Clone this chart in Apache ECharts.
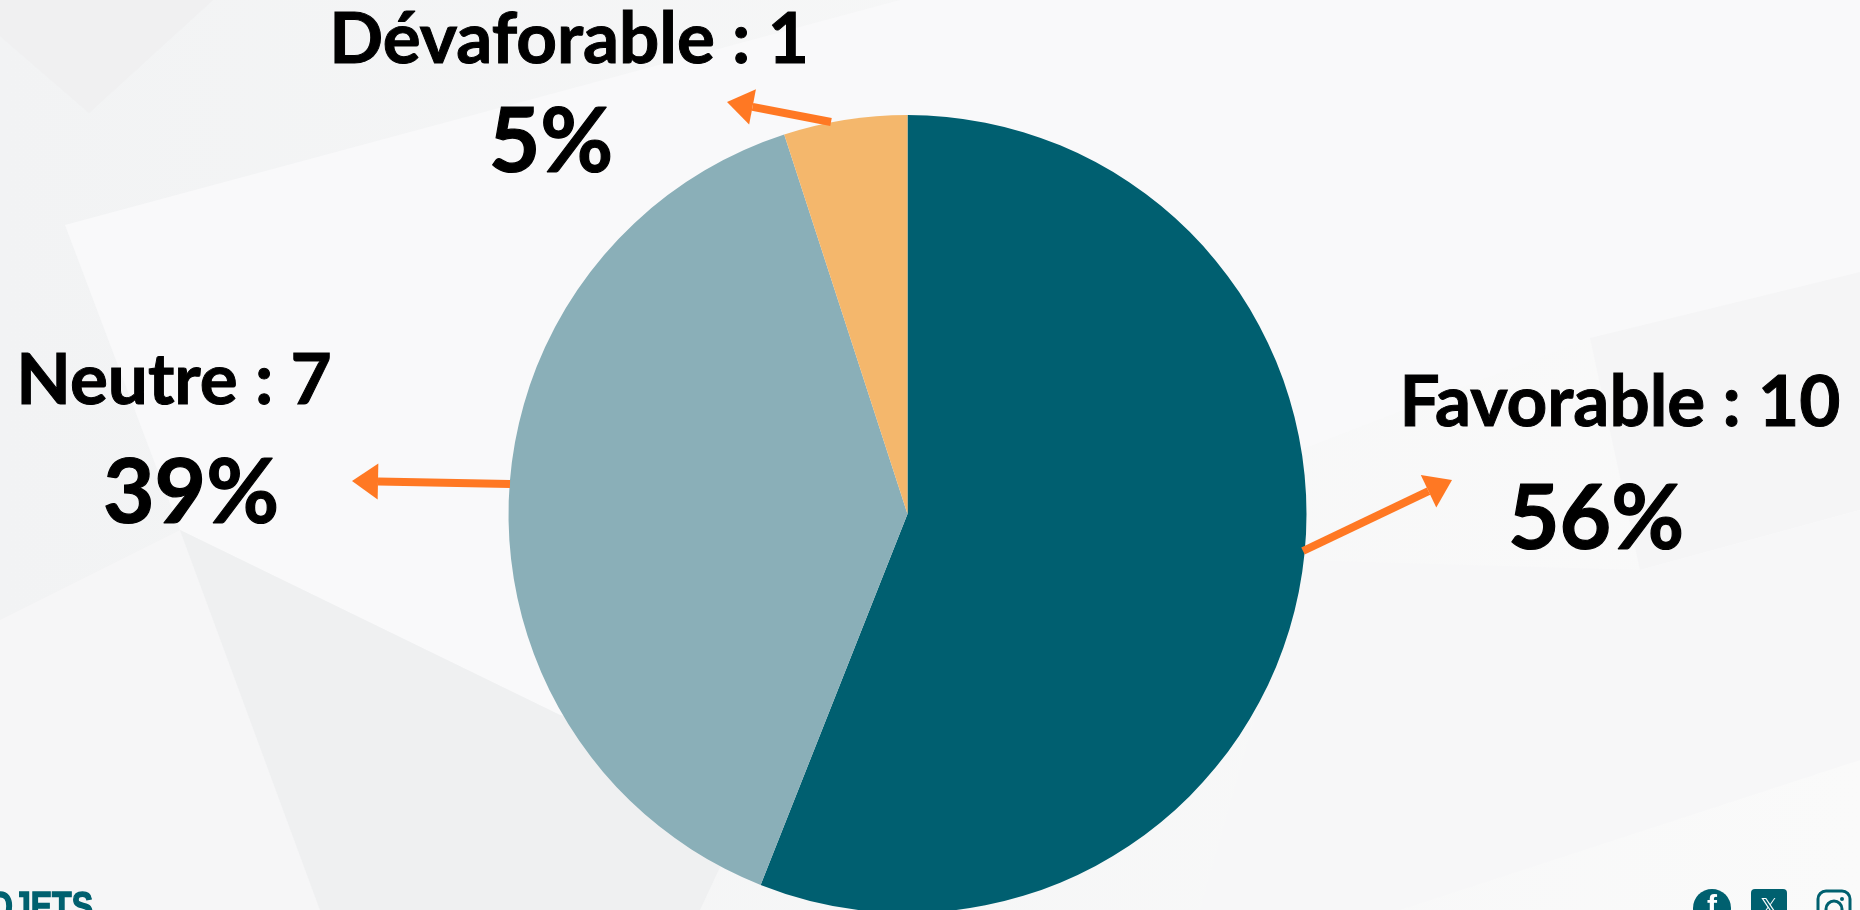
<!DOCTYPE html>
<html><head><meta charset="utf-8">
<style>html,body{margin:0;padding:0;width:1860px;height:910px;overflow:hidden;background:#f5f5f6}#c{width:1860px;height:910px}</style>
<script src="https://cdn.jsdelivr.net/npm/echarts@6/dist/echarts.min.js"></script>
</head><body><div id="c"></div>
<script>
const categories = ['Favorable', 'Neutre', 'Dévaforable'];
const counts = [10, 7, 1];
const percents = [56, 39, 5];
const sliceColors = ['#005F70', '#8AAFB8', '#F4B76C'];
const namePos = [[1620, 403], [174, 381], [569, 40]];
const pctPos = [[1596, 520], [191, 494], [551, 143]];
const arrows = [[[1303, 551], [1452, 480]], [[510, 484], [352, 481]], [[831, 122], [727, 102]]];
const bgShapes = [
  [[[0,0],[0,36],[89,113],[213,0]], '#f0f0f1'],
  [[[65,225],[900,0],[1860,0],[1860,272],[1590,338],[1300,450],[1110,600],[770,760],[560,715],[180,530]], '#f9f9fa'],
  [[[0,620],[180,530],[320,910],[0,910]], '#f6f6f7'],
  [[[180,530],[560,715],[770,760],[700,910],[320,910]], '#eff0f1'],
  [[[1590,338],[1860,272],[1860,510],[1640,570]], '#f5f5f6'],
  [[[1300,560],[1640,570],[1860,510],[1860,760],[1400,910],[1200,910]], '#f7f7f8']
];
const TEAL = '#00606F', ORANGE = '#FF7823';

function arrowEls(a) {
  const [p, q] = a, dx = q[0]-p[0], dy = q[1]-p[1], L = Math.hypot(dx, dy), ux = dx/L, uy = dy/L;
  const hl = 26, hw = 18, bx = q[0]-ux*hl, by = q[1]-uy*hl;
  return [
    {type:'line', z:100, shape:{x1:p[0], y1:p[1], x2:bx, y2:by}, style:{stroke:ORANGE, lineWidth:8}},
    {type:'polygon', z:100, shape:{points:[q, [bx-uy*hw, by+ux*hw], [bx+uy*hw, by-ux*hw]]}, style:{fill:ORANGE}}
  ];
}
const bgEls = [{type:'rect', z:-20, shape:{x:0,y:0,width:1860,height:910},
  style:{fill:new echarts.graphic.LinearGradient(0,0,1,0,[{offset:0,color:'#f2f3f4'},{offset:1,color:'#fafafa'}])}}]
  .concat(bgShapes.map(s => ({type:'polygon', z:-10, shape:{points:s[0]}, style:{fill:s[1]}})));
const decoEls = [
  {type:'text', z:50, x:93, y:889, scaleX:0.8, style:{x:0, y:0, text:'OJETS', align:'right', verticalAlign:'top', fill:TEAL,
    stroke:TEAL, lineWidth:1.5, font:'bold 40px "Liberation Sans Narrow","Liberation Sans"'}},
  {type:'circle', z:50, shape:{cx:1712, cy:908, r:19}, style:{fill:TEAL}},
  {type:'text', z:51, style:{x:1712, y:893, text:'f', align:'center', verticalAlign:'top', fill:'#fff', font:'bold 30px "Liberation Sans"'}},
  {type:'rect', z:50, shape:{x:1751, y:889, width:36, height:36, r:4}, style:{fill:TEAL}},
  {type:'text', z:51, style:{x:1769, y:897, text:'𝕏', align:'center', verticalAlign:'top', fill:'#fff', font:'22px "DejaVu Sans"'}},
  {type:'rect', z:50, shape:{x:1818, y:891, width:32, height:36, r:8}, style:{fill:'none', stroke:TEAL, lineWidth:3}},
  {type:'circle', z:50, shape:{cx:1834, cy:909, r:8}, style:{fill:'none', stroke:TEAL, lineWidth:3}},
  {type:'circle', z:50, shape:{cx:1842, cy:899, r:2}, style:{fill:TEAL}}
];
const pieData = categories.map((n, i) => ({name:n, value:percents[i], itemStyle:{color:sliceColors[i]}}));
const font = 'Lato, Carlito, "Open Sans", sans-serif';
const base = {type:'pie', center:[907.5, 514], radius:399, startAngle:90, clockwise:true, silent:true,
  avoidLabelOverlap:false, animation:false, labelLine:{show:false}, emphasis:{disabled:true}};
const layout = pos => p => ({x:pos[p.dataIndex][0], y:pos[p.dataIndex][1], align:'center', verticalAlign:'middle'});
const option = {
  animation:false,
  graphic:{elements:bgEls.concat(decoEls, arrows.flatMap(arrowEls))},
  series:[
    Object.assign({}, base, {data:pieData, z:2,
      label:{show:true, position:'outside', color:'#000', fontFamily:font, fontWeight:'bold', fontSize:71,
        textBorderColor:'#000', textBorderWidth:1,
        formatter:p => p.name + ' : ' + counts[p.dataIndex]},
      labelLayout:layout(namePos)}),
    Object.assign({}, base, {data:pieData.map(d => ({name:d.name, value:d.value, itemStyle:{color:'rgba(0,0,0,0)'}})), z:3,
      label:{show:true, position:'outside', color:'#000', fontFamily:font, fontWeight:'bold', fontSize:89,
        textBorderColor:'#000', textBorderWidth:1.2,
        formatter:p => percents[p.dataIndex] + '%'},
      labelLayout:layout(pctPos)})
  ]
};
const chart = echarts.init(document.getElementById('c'), null, {renderer:'canvas'});
chart.setOption(option);
</script></body></html>
